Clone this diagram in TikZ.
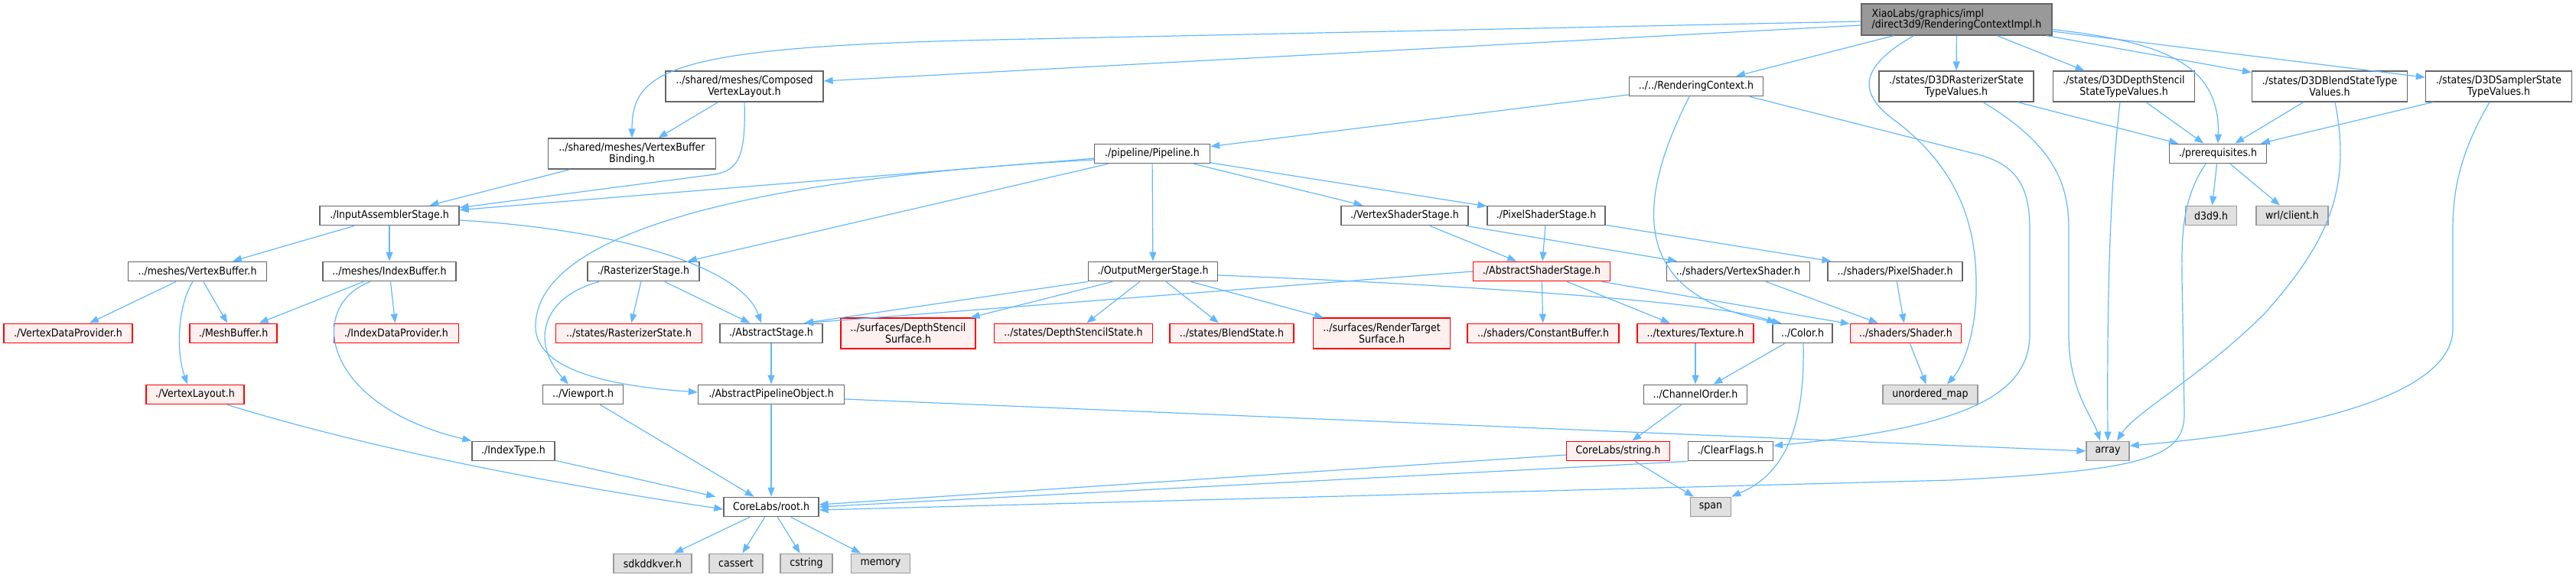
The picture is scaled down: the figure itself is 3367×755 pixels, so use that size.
\documentclass[tikz,border=0pt]{standalone}
\usepackage{fontspec}
\usetikzlibrary{arrows.meta}
\newfontfamily\gf[FakeStretch=0.9]{DejaVu Sans}
\definecolor{edgec}{HTML}{63B8FF}
\definecolor{bordc}{HTML}{666666}
\definecolor{redfill}{HTML}{FFF0F0}
\definecolor{extfill}{HTML}{E0E0E0}
\definecolor{extbord}{HTML}{999999}
\definecolor{rootfill}{HTML}{999999}
\tikzset{
  base/.style={rectangle, inner sep=0pt, minimum height=25.5pt, align=center,
    font={\gf\fontsize{14}{14.5}\selectfont}, line width=1.3pt},
  nb/.style={base, draw=bordc, fill=white},
  rb/.style={base, draw=red, fill=redfill},
  xb/.style={base, draw=extbord, fill=extfill},
  rootb/.style={base, draw=bordc, fill=rootfill, align=left},
  tb/.style={minimum height=40pt},
  e/.style={draw=edgec, line width=1.2pt, -{Triangle[length=12pt,width=9pt]}},
}
\begin{document}
\begin{tikzpicture}[x=1pt,y=1pt]
\useasboundingbox (0,0) rectangle (3367,-755);
% row 1
\node[rootb, minimum width=249pt, minimum height=41pt] (R) at (2557.5,-25.5) {XiaoLabs/graphics/impl\\/direct3d9/RenderingContextImpl.h};
% row 2
\node[nb, tb, minimum width=206pt] (Composed) at (973,-113) {../shared/meshes/Composed\\VertexLayout.h};
\node[nb, minimum width=175pt] (RC) at (2217,-113) {../../RenderingContext.h};
\node[nb, tb, minimum width=202pt] (D3DRast) at (2557,-113) {./states/D3DRasterizerState\\TypeValues.h};
\node[nb, tb, minimum width=185pt] (D3DDepth) at (2776,-113) {./states/D3DDepthStencil\\StateTypeValues.h};
\node[nb, tb, minimum width=203pt] (D3DBlend) at (3045,-113) {./states/D3DBlendStateType\\Values.h};
\node[nb, tb, minimum width=191pt] (D3DSampler) at (3266,-113) {./states/D3DSamplerState\\TypeValues.h};
% row 3
\node[nb, tb, minimum width=219pt] (VBB) at (826,-201) {../shared/meshes/VertexBuffer\\Binding.h};
\node[nb, minimum width=151pt] (Pipeline) at (1506,-201) {./pipeline/Pipeline.h};
\node[nb, minimum width=127pt] (prereq) at (2899,-201) {./prerequisites.h};
% row 4
\node[nb, minimum width=182pt] (IAS) at (509,-282) {./InputAssemblerStage.h};
\node[nb, minimum width=166pt] (VSS) at (1836,-282) {./VertexShaderStage.h};
\node[nb, minimum width=154pt] (PSS) at (2021,-282) {./PixelShaderStage.h};
\node[xb, minimum width=67pt] (d3d9) at (2890,-282) {d3d9.h};
\node[xb, minimum width=94pt] (wrl) at (2996,-282) {wrl/client.h};
% row 5
\node[nb, minimum width=181pt] (meshVB) at (258,-355) {../meshes/VertexBuffer.h};
\node[nb, minimum width=174pt] (meshIB) at (509,-355) {../meshes/IndexBuffer.h};
\node[nb, minimum width=146pt] (RastStage) at (841,-355) {./RasterizerStage.h};
\node[nb, minimum width=169pt] (OMS) at (1507,-355) {./OutputMergerStage.h};
\node[rb, minimum width=179pt] (AShS) at (2015,-355) {./AbstractShaderStage.h};
\node[nb, minimum width=187pt] (shVS) at (2272,-355) {../shaders/VertexShader.h};
\node[nb, minimum width=176pt] (shPS) at (2477,-355) {../shaders/PixelShader.h};
% row 6
\node[rb, minimum width=168pt] (VDP) at (89,-436) {./VertexDataProvider.h};
\node[rb, minimum width=114pt] (MeshBuf) at (305,-436) {./MeshBuffer.h};
\node[rb, minimum width=163pt] (IDP) at (518,-436) {./IndexDataProvider.h};
\node[rb, minimum width=191pt] (RastState) at (822,-436) {../states/RasterizerState.h};
\node[nb, minimum width=134pt] (AStage) at (1008,-436) {./AbstractStage.h};
\node[rb, tb, minimum width=176pt] (DSSurf) at (1187,-436) {../surfaces/DepthStencil\\Surface.h};
\node[rb, minimum width=207pt] (DSState) at (1403,-436) {../states/DepthStencilState.h};
\node[rb, minimum width=162pt] (BlendSt) at (1610,-436) {../states/BlendState.h};
\node[rb, tb, minimum width=179pt] (RTSurf) at (1806,-436) {../surfaces/RenderTarget\\Surface.h};
\node[rb, minimum width=198pt] (CBuf) at (2017,-436) {../shaders/ConstantBuffer.h};
\node[rb, minimum width=152pt] (Tex) at (2216,-436) {../textures/Texture.h};
\node[nb, minimum width=78pt] (Color) at (2356,-436) {../Color.h};
\node[rb, minimum width=145pt] (Shader) at (2491,-436) {../shaders/Shader.h};
% row 7
\node[rb, minimum width=128pt] (VLayout) at (255,-516) {./VertexLayout.h};
\node[nb, minimum width=105pt] (Viewport) at (762,-516) {../Viewport.h};
\node[nb, minimum width=191pt] (APO) at (1008,-516) {./AbstractPipelineObject.h};
\node[nb, minimum width=135pt] (ChOrd) at (2216,-516) {../ChannelOrder.h};
\node[xb, minimum width=124pt] (umap) at (2523,-516) {unordered\_map};
% row 8
\node[nb, minimum width=108pt] (IdxType) at (671,-590) {./IndexType.h};
\node[rb, minimum width=135pt] (CLstr) at (2115,-590) {CoreLabs/string.h};
\node[nb, minimum width=111pt] (Clear) at (2262,-590) {./ClearFlags.h};
\node[xb, minimum width=56pt] (array) at (2755,-590) {array};
% row 9
\node[nb, minimum width=124pt] (root) at (1008,-663) {CoreLabs/root.h};
\node[xb, minimum width=53pt] (span) at (2236,-663) {span};
% row 10
\node[xb, minimum width=102pt] (sdk) at (853,-737) {sdkddkver.h};
\node[xb, minimum width=70pt] (cassert) at (962,-737) {cassert};
\node[xb, minimum width=68pt] (cstring) at (1054,-737) {cstring};
\node[xb, minimum width=77pt] (memory) at (1151,-737) {memory};

% edges from root file
\draw[e] ([yshift=-2.5pt]R.west) -- (1300,-52) .. controls (880,-61) and (826,-90) .. (VBB.north);
\draw[e] ([yshift=-7.5pt]R.west) -- ([yshift=7pt]Composed.east);
\draw[e] (R) -- (RC);
\draw[e] (R) -- (D3DRast);
\draw[e] (R) -- (D3DDepth);
\draw[e] (R) -- (D3DBlend);
\draw[e] (R) -- (D3DSampler);
\draw[e] ([yshift=-13pt]R.east) .. controls (2830,-55) and (2902,-85) .. (prereq.north);
\draw[e] ([xshift=-56pt]R.south) .. controls (2425,-90) and (2430,-125) .. (2480,-160) .. controls (2570,-230) and (2584,-310) .. (2583,-380) .. controls (2582,-440) and (2565,-480) .. ([xshift=22pt]umap.north);
% composed / binding
\draw[e] (Composed) -- (VBB);
\draw[e] (Composed.south) .. controls (975,-205) and (965,-222) .. (935,-228) -- ([yshift=-3pt]IAS.north east);
\draw[e] (VBB) -- (IAS);
% rendering context
\draw[e] (RC) -- (Pipeline);
\draw[e] ([xshift=-9pt]RC.south) .. controls (2130,-280) and (2140,-390) .. ([xshift=12pt]Color.north west);
\draw[e] ([xshift=70pt]RC.south) -- (2585,-202) .. controls (2640,-216) and (2653,-250) .. (2653,-300) -- (2653,-437) .. controls (2653,-520) and (2560,-560) .. ([yshift=7pt]Clear.east);
% pipeline
\draw[e] (Pipeline) -- (IAS);
\draw[e] ([yshift=-8pt]Pipeline.west) .. controls (1000,-232) and (703,-300) .. (700,-425) .. controls (698,-485) and (800,-505) .. ([yshift=3pt]APO.west);
\draw[e] (Pipeline) -- (RastStage);
\draw[e] (Pipeline) -- (OMS);
\draw[e] (Pipeline) -- (VSS);
\draw[e] (Pipeline) -- (PSS);
% input assembler
\draw[e] (IAS) -- (meshVB);
\draw[e] (IAS) -- (meshIB);
\draw[e] ([yshift=-6pt]IAS.east) .. controls (810,-300) and (970,-350) .. ([xshift=-13pt]AStage.north);
\draw[e] (meshVB) -- (VDP);
\draw[e] (meshVB) -- (MeshBuf);
\draw[e] ([xshift=-6pt]meshVB.south) .. controls (232,-400) and (230,-460) .. ([xshift=-10pt]VLayout.north);
\draw[e] (meshIB) -- (MeshBuf);
\draw[e] (meshIB) -- (IDP);
\draw[e] ([xshift=-25pt]meshIB.south) .. controls (400,-400) and (420,-530) .. (IdxType.north west);
% rasterizer
\draw[e] (RastStage) -- (RastState);
\draw[e] (RastStage) -- (AStage);
\draw[e] ([xshift=-58pt]RastStage.south) .. controls (705,-390) and (695,-450) .. ([xshift=-19pt]Viewport.north);
% output merger
\draw[e] (OMS.south west) -- ([xshift=43pt]AStage.north);
\draw[e] (OMS) -- (DSSurf);
\draw[e] (OMS) -- (DSState);
\draw[e] (OMS) -- (BlendSt);
\draw[e] (OMS) -- (RTSurf);
\draw[e] ([yshift=-5pt]OMS.east) .. controls (1900,-372) and (2250,-395) .. ([xshift=5pt]Color.north west);
% shader stages
\draw[e] (VSS) -- (AShS);
\draw[e] (VSS) -- (shVS);
\draw[e] (PSS) -- (AShS);
\draw[e] (PSS) -- (shPS);
\draw[e] (AShS.west) -- ([xshift=43pt]AStage.north);
\draw[e] (AShS) -- (CBuf);
\draw[e] (AShS) -- (Tex);
\draw[e] (AShS) -- (Shader);
\draw[e] (shVS) -- (Shader);
\draw[e] (shPS) -- (Shader);
\draw[e] (Shader) -- (umap);
% textures / colour
\draw[e] (Tex) -- (ChOrd);
\draw[e] (Color) -- (ChOrd);
\draw[e] ([xshift=1pt]Color.south) .. controls (2360,-580) and (2320,-625) .. (span.north east);
\draw[e] (ChOrd) -- (CLstr);
\draw[e] (CLstr) -- (span);
\draw[e] ([yshift=-5pt]CLstr.west) -- ([yshift=3pt]root.east);
\draw[e] (Clear.south west) -- (root.east);
% prerequisites
\draw[e] (prereq) -- (d3d9);
\draw[e] (prereq) -- (wrl);
\draw[e] ([xshift=-16pt]prereq.south) .. controls (2845,-270) and (2852,-330) .. (2853,-420) -- (2855,-540) .. controls (2856,-600) and (2800,-615) .. (2550,-628) -- ([yshift=-4pt]root.east);
% D3D state type values
\draw[e] (D3DRast) -- (prereq);
\draw[e] (D3DDepth) -- (prereq);
\draw[e] (D3DBlend) -- (prereq);
\draw[e] (D3DSampler) -- (prereq);
\draw[e] ([xshift=35pt]D3DRast.south) .. controls (2685,-190) and (2704,-240) .. (2704,-300) -- (2704,-440) .. controls (2704,-510) and (2735,-545) .. ([xshift=-10pt]array.north);
\draw[e] ([xshift=-5pt]D3DDepth.south) .. controls (2757,-250) and (2754,-400) .. (array.north);
\draw[e] ([xshift=7pt]D3DBlend.south) .. controls (3075,-250) and (3040,-320) .. (2960,-410) .. controls (2880,-490) and (2790,-540) .. ([xshift=12pt]array.north);
\draw[e] ([xshift=-12pt]D3DSampler.south) .. controls (3215,-200) and (3206,-250) .. (3206,-300) -- (3206,-430) .. controls (3206,-520) and (3000,-565) .. ([yshift=7pt]array.east);
% abstract objects
\draw[e] (AStage) -- (APO);
\draw[e] (APO) -- (root);
\draw[e] ([yshift=-6pt]APO.east) -- (array.west);
\draw[e] ([xshift=42pt]VLayout.south) .. controls (500,-592) and (750,-637) .. ([yshift=-3pt]root.west);
\draw[e] (IdxType) -- ([xshift=-10pt]root.north west);
\draw[e] (Viewport) -- (root);
% root
\draw[e] (root) -- (sdk);
\draw[e] (root) -- (cassert);
\draw[e] (root) -- (cstring);
\draw[e] (root) -- (memory);
\end{tikzpicture}
\end{document}
